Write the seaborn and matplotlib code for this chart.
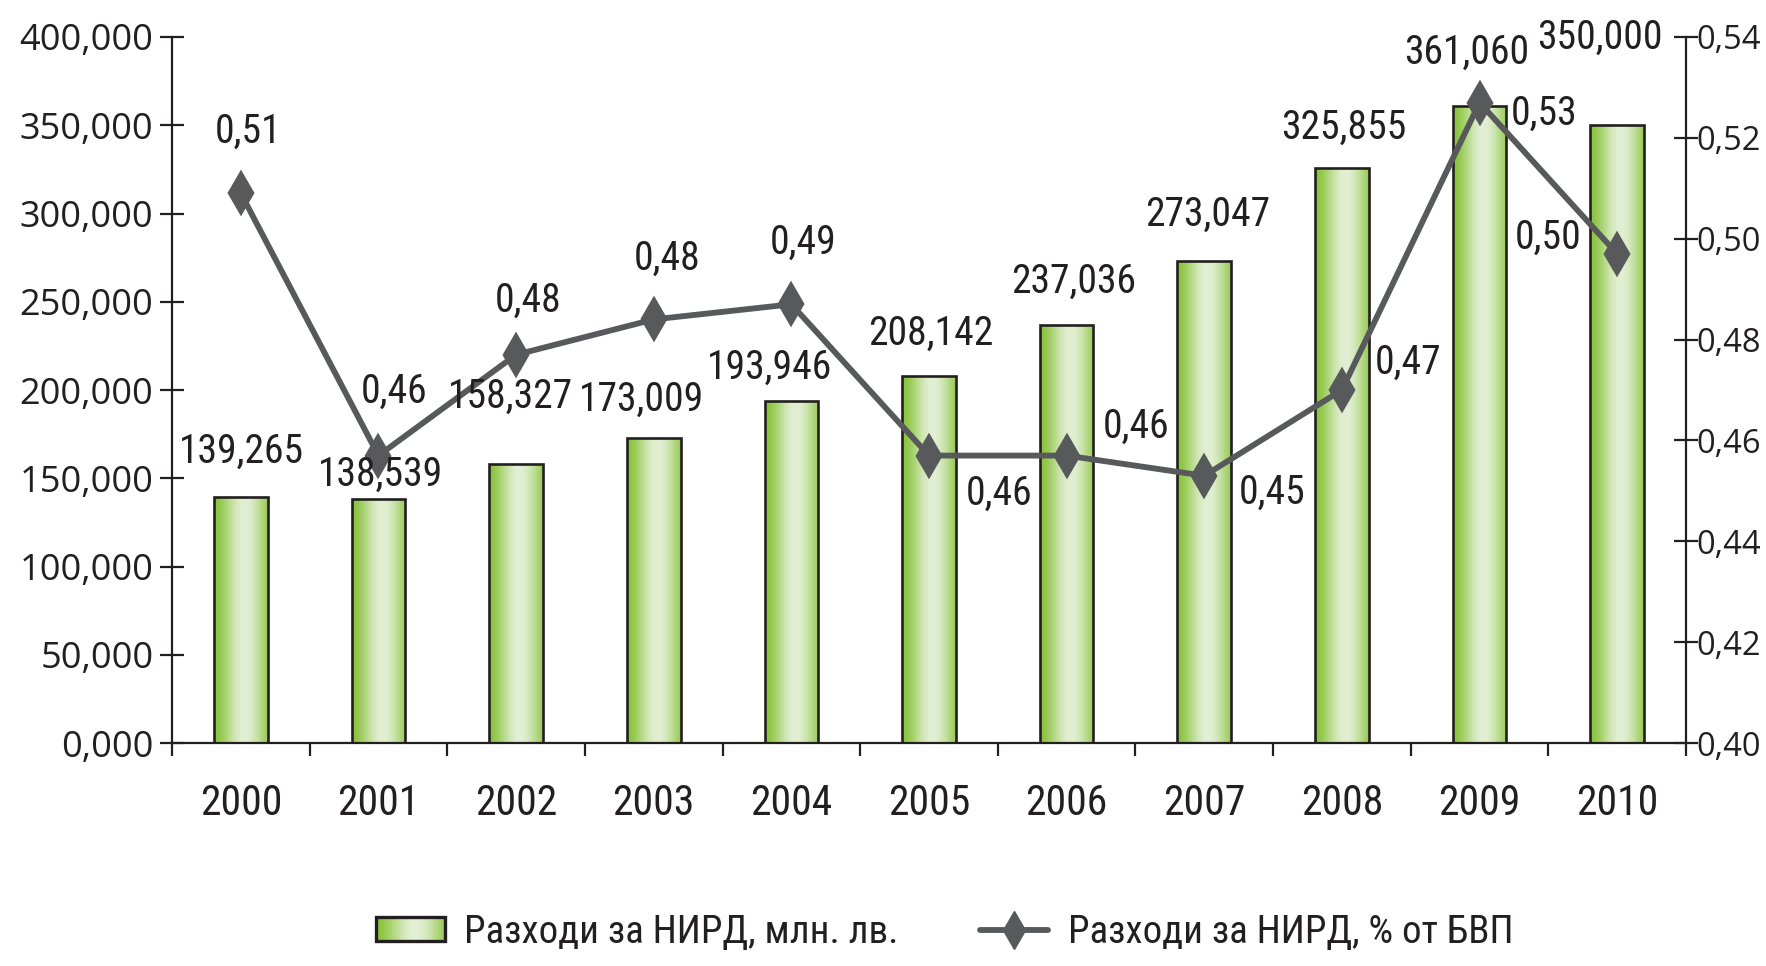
import numpy as np
import pandas as pd
import matplotlib
matplotlib.use("Agg")
import matplotlib.pyplot as plt
import seaborn as sns
from matplotlib import font_manager as fm
from matplotlib.patches import Rectangle
from matplotlib.lines import Line2D
from matplotlib.legend_handler import HandlerBase
from matplotlib.ticker import FuncFormatter, FixedLocator

# ---------------- data ----------------
years = ["2000", "2001", "2002", "2003", "2004", "2005", "2006", "2007", "2008", "2009", "2010"]
spend = [139.265, 138.539, 158.327, 173.009, 193.946, 208.142, 237.036, 273.047, 325.855, 361.060, 350.000]
pct_gdp = [0.509, 0.457, 0.477, 0.484, 0.487, 0.457, 0.457, 0.453, 0.470, 0.527, 0.497]
pct_labels = ["0,51", "0,46", "0,48", "0,48", "0,49", "0,46", "0,46", "0,45", "0,47", "0,53", "0,50"]
bar_series = "Разходи за НИРД, млн. лв."
line_series = "Разходи за НИРД, % от БВП"

# label offsets (pixels) – layout only
bar_lab_off = [(1, 46), (2, 24), (-6, 67), (-12, 38), (-22, 33), (2, 42), (7, 43), (3, 47), (2, 41), (-13, 53), (-17, 88)]
pct_lab_off = [(7, 62), (16, 64), (12, 54), (13, 61), (12, 62), (70, -38), (69, 29), (68, -17), (66, 28), (65, -11), (-69, 17)]

TXT = "#231f20"
LINE = "#58595b"
GREEN = np.array([138, 196, 60]) / 255
LIGHT = np.array([226, 239, 212]) / 255

def gradcolor(t):
    s = np.clip(1 - np.abs(t - 0.57) / 0.57, 0, 1)
    s = np.sin(s * np.pi / 2) ** 1.8
    return GREEN + (LIGHT - GREEN) * s

# pick a condensed font if one is installed
entries = [(f.name, f.stretch) for f in fm.fontManager.ttflist]
names = {n for n, _ in entries}
cond_family, cond_stretch, scale = None, "normal", 1.0
for cand in ["Roboto Condensed", "Liberation Sans Narrow", "Open Sans Condensed", "Noto Sans Condensed"]:
    if cand in names:
        cond_family, cond_stretch = cand, "normal"
        break
if cond_family is None:
    for n, st in entries:
        if n in ("DejaVu Sans", "Noto Sans", "Roboto", "Open Sans") and str(st) in ("condensed", "semi-condensed", "75", "87", "62"):
            cond_family, cond_stretch = n, st
            break
if cond_family is None:
    cond_family, cond_stretch, scale = "Liberation Sans", "normal", 0.85

sns.set_theme(style="white")
plt.rcParams["font.family"] = [cond_family, "DejaVu Sans"]
plt.rcParams["font.stretch"] = cond_stretch
plt.rcParams["text.color"] = TXT
FS = 28.5 * scale

df = pd.DataFrame({"year": years, "spend": spend, "pct": pct_gdp})

fig = plt.figure(figsize=(17.66, 9.66), dpi=100)
ax = fig.add_axes([0.0974, 0.2308, 0.9547 - 0.0974, 0.9617 - 0.2308])

sns.barplot(data=df, x="year", y="spend", ax=ax, width=0.39, color="#8cc63f",
            edgecolor=TXT, linewidth=1.9, zorder=2)

# gradient fill inside each bar
grad = np.array([gradcolor(t) for t in np.linspace(0, 1, 200)])[None, :, :]
for p in ax.patches:
    x0, y0 = p.get_x(), p.get_y()
    w, h = p.get_width(), p.get_height()
    im = ax.imshow(grad, extent=[x0, x0 + w, y0, y0 + h], aspect="auto", zorder=1.5,
                   interpolation="bilinear")
    im.set_clip_path(p)
    p.set_facecolor("none")

ax.set_xlim(-0.5, len(years) - 0.5)
ax.set_ylim(0, 400)
ax.set_xlabel("")
ax.set_ylabel("")

ax2 = ax.twinx()
sns.pointplot(data=df, x="year", y="pct", ax=ax2, color=LINE, markers="d",
              linestyles="-", markersize=19, linewidth=4.2, zorder=5)
ax2.set_xlim(-0.5, len(years) - 0.5)
ax2.set_ylim(0.40, 0.54)
ax2.set_ylabel("")
ax2.set_xlabel("")

# spines
for a in (ax, ax2):
    a.spines["top"].set_visible(False)
    for s in ("left", "right", "bottom"):
        a.spines[s].set_color(TXT)
        a.spines[s].set_linewidth(1.6)
ax.spines["right"].set_visible(False)
ax2.spines["left"].set_visible(False)
ax2.spines["bottom"].set_visible(False)

tick_font = ["Open Sans", "DejaVu Sans"]
# ticks
ax.set_yticks(np.arange(0, 401, 50))
ax.yaxis.set_major_formatter(FuncFormatter(lambda v, p: f"{v:.3f}".replace(".", ",")))
ax.tick_params(axis="y", which="major", direction="inout", length=17, width=1.6,
               color=TXT, labelsize=26, labelcolor=TXT, pad=5, left=True)
for lab in ax.get_yticklabels():
    lab.set_family(tick_font)
    lab.set_stretch("normal")

ax2.set_yticks(np.arange(0.40, 0.5401, 0.02))
ax2.yaxis.set_major_formatter(FuncFormatter(lambda v, p: f"{v:.2f}".replace(".", ",")))
ax2.tick_params(axis="y", which="major", direction="inout", length=17, width=1.6,
                color=TXT, labelsize=23.5, labelcolor=TXT, pad=-1, right=True)
for lab in ax2.get_yticklabels():
    lab.set_family(tick_font)
    lab.set_stretch("normal")

ax.xaxis.set_minor_locator(FixedLocator(np.arange(-0.5, len(years), 1.0)))
ax.tick_params(axis="x", which="major", length=0, labelsize=FS + 1.5, labelcolor=TXT, pad=29)
ax.tick_params(axis="x", which="minor", direction="out", length=9.5, width=1.6, color=TXT, bottom=True)
ax2.tick_params(axis="x", which="both", length=0)
ax.grid(False)
ax2.grid(False)

# labels
for i, (v, off) in enumerate(zip(spend, bar_lab_off)):
    ax2.annotate(f"{v:.3f}".replace(".", ","), xy=(i, (v / 400) * 0.14 + 0.40),
                 xytext=off, textcoords="offset pixels", ha="center", va="center",
                 fontsize=FS, color=TXT, zorder=6)
for i, (v, lab, off) in enumerate(zip(pct_gdp, pct_labels, pct_lab_off)):
    ax2.annotate(lab, xy=(i, v), xytext=off, textcoords="offset pixels",
                 ha="center", va="center", fontsize=FS, color=TXT, zorder=6)

# legend
class GradHandler(HandlerBase):
    def create_artists(self, legend, orig, xd, yd, w, h, fontsize, trans):
        arts = []
        n = 40
        for i in range(n):
            t = (i + 0.5) / n
            arts.append(Rectangle((-xd + w * i / n, -yd), w / n + 0.3, h,
                                  facecolor=gradcolor(t), edgecolor="none", transform=trans))
        arts.append(Rectangle((-xd, -yd), w, h, facecolor="none", edgecolor=TXT,
                              lw=2.4, transform=trans))
        return arts

bar_handle = Rectangle((0, 0), 1, 1)
line_handle = Line2D([], [], color=LINE, lw=4.2, marker="d", markersize=19)
fig.legend([bar_handle, line_handle], [bar_series, line_series],
           handler_map={Rectangle: GradHandler()},
           loc="center", bbox_to_anchor=(0.535, 0.035), ncol=2, frameon=False,
           fontsize=FS - 0.5, handlelength=1.75, handleheight=0.55, handletextpad=0.5,
           columnspacing=2.1, labelcolor=TXT)

fig.savefig("out.png", dpi=100)
